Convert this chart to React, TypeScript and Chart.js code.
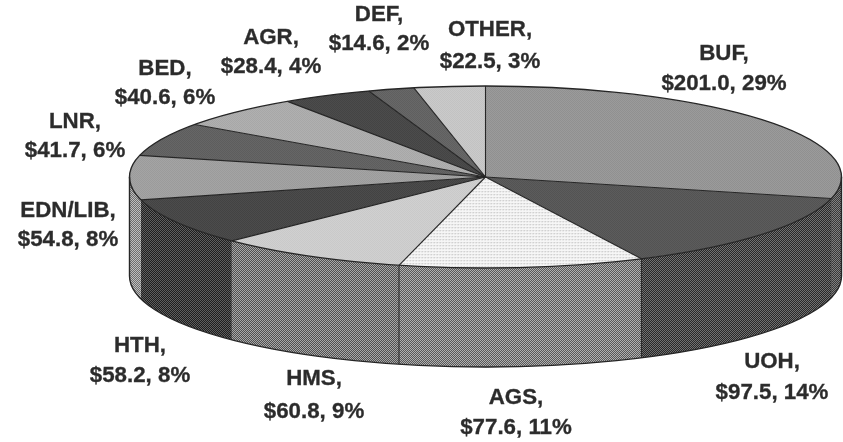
import React, { useEffect, useRef } from "react";
import { Chart, registerables } from "chart.js";

Chart.register(...registerables);

const categories = ["BUF", "UOH", "AGS", "HMS", "HTH", "EDN/LIB", "LNR", "BED", "AGR", "DEF", "OTHER"];
const amounts = [201.0, 97.5, 77.6, 60.8, 58.2, 54.8, 41.7, 40.6, 28.4, 14.6, 22.5];
const percents = [29, 14, 11, 9, 8, 8, 6, 6, 4, 2, 3];

// [mean grey, checker contrast] of the top face and wall of each slice
const topTones = [[150, 42], [88, 38], [236, 0], [205, 28], [72, 34], [160, 38], [98, 38], [172, 36], [72, 32], [100, 34], [198, 32]];
const wallTones = [[92, 36], [76, 36], [132, 44], [124, 44], [62, 32], [150, 40], [98, 38], [172, 36], [72, 32], [100, 34], [198, 32]];

// centre x, first and second line's middle y of each label
const labelAnchors = [
  [724, 54, 84], [772, 362, 393], [516, 398, 428], [314, 379, 412], [140, 346, 376],
  [68, 211, 240], [75, 122, 151], [165, 69, 98], [271, 38, 67], [379, 15, 44], [490, 30, 62],
];

// joints between walls that show a drawn line: index of the slice before the joint
const drawnJoints = [0, 1, 2];

const CX = 485.5;
const CY = 177;
const RX = 356;
const RY = 91;
const DEPTH = 99;
const INK = "#262626";

function makePattern(ctx: CanvasRenderingContext2D, mean: number, contrast: number) {
  const tile = document.createElement("canvas");
  const fine = contrast === 0;
  tile.width = tile.height = fine ? 3 : 2;
  const t = tile.getContext("2d")!;
  if (fine) {
    t.fillStyle = "#f6f6f6";
    t.fillRect(0, 0, 3, 3);
    t.fillStyle = "#c4c4c4";
    t.fillRect(0, 0, 1, 1);
    t.fillStyle = "#e2e2e2";
    t.fillRect(1, 0, 1, 1);
    t.fillRect(0, 1, 1, 1);
  } else {
    const lo = mean - contrast;
    const hi = mean + contrast;
    t.fillStyle = `rgb(${lo},${lo},${lo})`;
    t.fillRect(0, 0, 2, 2);
    t.fillStyle = `rgb(${hi},${hi},${hi})`;
    t.fillRect(0, 0, 1, 1);
    t.fillRect(1, 1, 1, 1);
  }
  return ctx.createPattern(tile, "repeat")!;
}

export default function App() {
  const ref = useRef<HTMLCanvasElement>(null);

  useEffect(() => {
    const canvas = ref.current!;
    const ctx = canvas.getContext("2d")!;
    const topFills = topTones.map(([m, c]) => makePattern(ctx, m, c));
    const wallFills = wallTones.map(([m, c]) => makePattern(ctx, m, c));

    const pie3d = {
      id: "pie3d",
      beforeDatasetsDraw(chart: any) {
        const c = chart.ctx as CanvasRenderingContext2D;
        const arcs = chart.getDatasetMeta(0).data;
        // side wall: only the front half of the ellipse is visible
        arcs.forEach((arc: any, i: number) => {
          const a0 = Math.max(arc.startAngle, 0);
          const a1 = Math.min(arc.endAngle, Math.PI);
          if (a1 <= a0) return;
          c.beginPath();
          c.ellipse(CX, CY, RX, RY, 0, a0, a1);
          c.ellipse(CX, CY + DEPTH, RX, RY, 0, a1, a0, true);
          c.closePath();
          c.fillStyle = wallFills[i];
          c.fill();
        });
        arcs.forEach((arc: any, i: number) => {
          if (!drawnJoints.includes(i)) return;
          const x = CX + RX * Math.cos(arc.endAngle);
          const y = CY + RY * Math.sin(arc.endAngle);
          c.beginPath();
          c.moveTo(x, y);
          c.lineTo(x, y + DEPTH);
          c.strokeStyle = i === 0 ? "rgba(38,38,38,0.45)" : INK;
          c.lineWidth = 1;
          c.stroke();
        });
        const { x, y, outerRadius } = arcs[0];
        const sx = RX / outerRadius;
        const sy = RY / outerRadius;
        topFills.forEach((p) => p.setTransform(new DOMMatrix([1 / sx, 0, 0, 1 / sy, 0, 0])));
        c.save();
        c.translate(CX, CY);
        c.scale(sx, sy);
        c.translate(-x, -y);
      },
      afterDatasetsDraw(chart: any) {
        const c = chart.ctx as CanvasRenderingContext2D;
        c.restore();
        const arcs = chart.getDatasetMeta(0).data;
        c.strokeStyle = INK;
        c.lineWidth = 1.1;
        // spokes
        arcs.forEach((arc: any) => {
          c.beginPath();
          c.moveTo(CX, CY);
          c.lineTo(CX + RX * Math.cos(arc.endAngle), CY + RY * Math.sin(arc.endAngle));
          c.stroke();
        });
        // outline
        c.lineWidth = 1.4;
        c.beginPath();
        c.ellipse(CX, CY, RX, RY, 0, 0, Math.PI * 2);
        c.stroke();
        c.beginPath();
        c.ellipse(CX, CY + DEPTH, RX, RY, 0, 0, Math.PI);
        c.moveTo(CX - RX, CY + DEPTH);
        c.lineTo(CX - RX, CY);
        c.moveTo(CX + RX, CY);
        c.lineTo(CX + RX, CY + DEPTH);
        c.stroke();
        // labels
        c.fillStyle = "#2b2b2b";
        c.strokeStyle = "#3a3a3a";
        c.lineWidth = 0.35;
        c.font = 'bold 22.3px "Liberation Sans"';
        c.textAlign = "center";
        c.textBaseline = "middle";
        categories.forEach((name, i) => {
          const [lx, y1, y2] = labelAnchors[i];
          const first = `${name},`;
          const second = `$${amounts[i].toFixed(1)}, ${percents[i]}%`;
          c.fillText(first, lx, y1);
          c.strokeText(first, lx, y1);
          c.fillText(second, lx, y2);
          c.strokeText(second, lx, y2);
        });
      },
    };

    const chart = new Chart(canvas, {
      type: "pie",
      data: {
        labels: categories,
        datasets: [{ data: amounts, backgroundColor: topFills, borderWidth: 0, clip: false } as any],
      },
      options: {
        responsive: false,
        animation: false,
        events: [],
        layout: { padding: 0 },
        plugins: { legend: { display: false }, tooltip: { enabled: false } },
      },
      plugins: [pie3d],
    } as any);
    return () => chart.destroy();
  }, []);

  return (
    <canvas
      ref={ref}
      width={843}
      height={442}
      style={{ position: "fixed", left: 0, top: 0, width: 843, height: 442, background: "#fff", filter: "blur(0.4px)" }}
    />
  );
}
